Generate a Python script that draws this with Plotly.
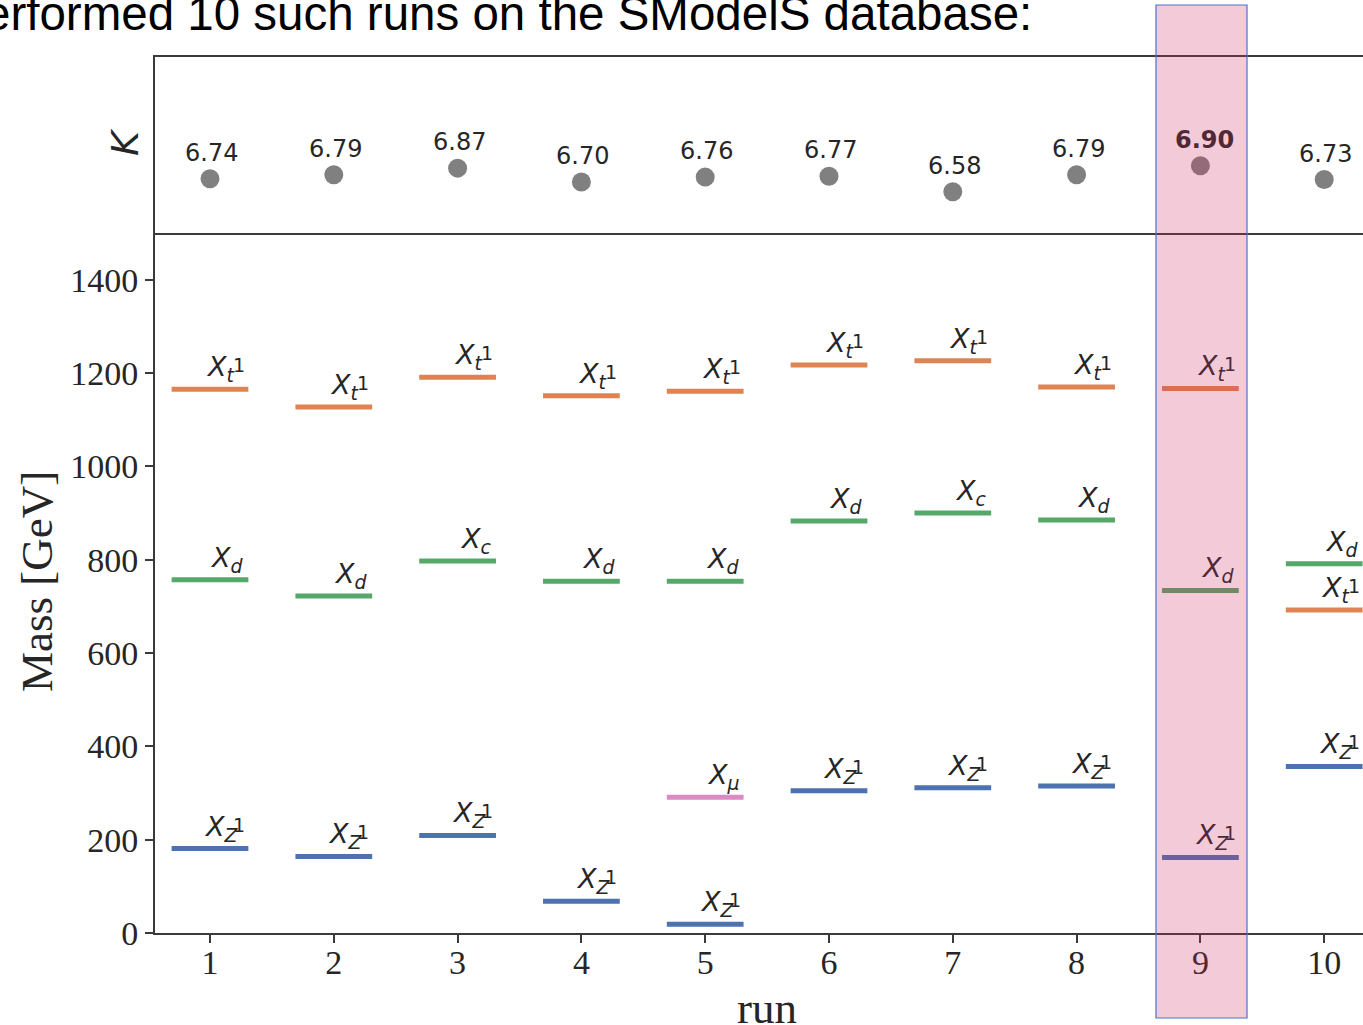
import plotly.graph_objects as go

# ---- data -------------------------------------------------------------
runs = [1, 2, 3, 4, 5, 6, 7, 8, 9, 10]
k_values = [6.74, 6.79, 6.87, 6.70, 6.76, 6.77, 6.58, 6.79, 6.90, 6.73]

# particle masses per run in GeV (None = particle absent in that run)
mass_xt1 = [1165, 1127, 1191, 1151, 1161, 1217, 1226, 1170, 1167, 692]
mass_xd = [757, 722, None, 754, 754, 883, None, 885, 734, 791]
mass_xc = [None, None, 797, None, None, None, 900, None, None, None]
mass_xmu = [None, None, None, None, 291, None, None, None, None, None]
mass_xz1 = [181, 164, 209, 68, 19, 305, 311, 315, 162, 357]

mass_ticks = [0, 200, 400, 600, 800, 1000, 1200, 1400]
highlight_run = 9

# (subscript, superscript, colour, masses)
particles = [
    ("t", "1", (221, 132, 82), mass_xt1),
    ("d", "", (85, 168, 104), mass_xd),
    ("c", "", (85, 168, 104), mass_xc),
    ("μ", "", (218, 139, 195), mass_xmu),
    ("Z", "1", (76, 114, 176), mass_xz1),
]

# ---- geometry / style -------------------------------------------------
W, H = 1363, 1025
ML, MR, MT, MB = 155, 0, 57, 92
PW, PH = W - ML - MR, H - MT - MB
SPLIT = (PH - 176) / PH          # K panel occupies the top 176 px
HALF = 0.31                      # half length of a mass level
TEXT = (38, 38, 38)
AXIS = "#3a3a3a"
OVER_RGB, OVER_A = (205, 45, 100), 0.25
# pixel shift of the "X + subscript" block when a superscript follows it
SUP_ROOM = {"t": -11, "Z": -7}


def rgb(c):
    return "rgb(%d,%d,%d)" % tuple(round(v) for v in c)


def tint(c):
    """colour seen through the translucent highlight band"""
    return tuple((1 - OVER_A) * v + OVER_A * o for v, o in zip(c, OVER_RGB))


def px_x(px):
    return (px - ML) / PW


def px_y(py):
    return (H - MB - py) / PH


fig = go.Figure()

# mass levels
for sub, sup, col, masses in particles:
    xs, ys = [], []
    for r, m in zip(runs, masses):
        if m is None:
            continue
        xs += [r - HALF, r + HALF, None]
        ys += [m, m, None]
    fig.add_trace(go.Scatter(x=xs, y=ys, mode="lines", xaxis="x", yaxis="y",
                             line=dict(color=rgb(col), width=5),
                             hoverinfo="skip", showlegend=False))

# K values
fig.add_trace(go.Scatter(x=runs, y=k_values, mode="markers", xaxis="x2", yaxis="y2",
                         marker=dict(size=19, color="#808080"),
                         hoverinfo="skip", showlegend=False))

annotations = []

# level labels: X with subscript, superscript stacked above the subscript
for sub, sup, col, masses in particles:
    for r, m in zip(runs, masses):
        if m is None:
            continue
        tc = rgb(tint(TEXT)) if r == highlight_run else rgb(TEXT)
        annotations.append(dict(
            x=r + HALF, y=m, xref="x", yref="y",
            text="<i>X</i><sub><i>%s</i></sub>" % sub,
            xanchor="right", yanchor="bottom",
            xshift=SUP_ROOM.get(sub, -2) if sup else -2, yshift=1,
            showarrow=False,
            font=dict(family="DejaVu Sans", size=27, color=tc)))
        if sup:
            annotations.append(dict(
                x=r + HALF, y=m, xref="x", yref="y", text=sup,
                xanchor="right", yanchor="middle", xshift=-1, yshift=24,
                showarrow=False,
                font=dict(family="DejaVu Sans", size=19, color=tc)))

# K value labels
k_best = max(k_values)
for r, k in zip(runs, k_values):
    label = "%.2f" % k
    tc = rgb(tint(TEXT)) if r == highlight_run else rgb(TEXT)
    annotations.append(dict(
        x=r, y=k, xref="x2", yref="y2",
        text="<b>%s</b>" % label if k == k_best else label,
        xanchor="left", yanchor="bottom", xshift=-27, yshift=10,
        showarrow=False,
        font=dict(family="DejaVu Sans", size=24, color=tc)))

# axis titles
annotations += [
    dict(x=px_x(37), y=px_y(582), xref="paper", yref="paper", text="Mass [GeV]",
         textangle=-90, xanchor="center", yanchor="middle", showarrow=False,
         font=dict(family="Liberation Serif", size=45, color=rgb(TEXT))),
    dict(x=px_x(767), y=px_y(1008), xref="paper", yref="paper", text="run",
         xanchor="center", yanchor="middle", showarrow=False,
         font=dict(family="Liberation Serif", size=45, color=rgb(TEXT))),
    dict(x=px_x(125), y=px_y(142), xref="paper", yref="paper", text="<i>K</i>",
         textangle=-90, xanchor="center", yanchor="middle", showarrow=False,
         font=dict(family="DejaVu Sans", size=38, color=rgb(TEXT))),
    dict(x=px_x(1034), y=px_y(42), xref="paper", yref="paper",
         text="erformed 10 such runs on the SModelS database:",
         xanchor="right", yanchor="bottom", showarrow=False,
         font=dict(family="Liberation Sans", size=47.5, color="black")),
]

# highlight band over the best run
shapes = [dict(type="rect", xref="paper", yref="paper", layer="above",
               x0=px_x(1156), x1=px_x(1247), y0=px_y(1018), y1=px_y(5),
               fillcolor="rgba(%d,%d,%d,%g)" % (*OVER_RGB, OVER_A),
               line=dict(color="#4a72c8", width=1.2))]

x_range = [1 - 55 / 123.8, 1 + (W - 210) / 123.8]
axis_common = dict(showgrid=False, zeroline=False, linecolor=AXIS, linewidth=2)

fig.update_layout(
    width=W, height=H, template="none",
    margin=dict(l=ML, r=MR, t=MT, b=MB, pad=0),
    paper_bgcolor="white", plot_bgcolor="rgba(0,0,0,0)",
    showlegend=False,
    xaxis=dict(**axis_common, domain=[0, 1], range=x_range, showline=True,
               tickmode="array", tickvals=runs, ticktext=[str(r) for r in runs],
               ticks="outside", ticklen=8, tickwidth=2, tickcolor=AXIS,
               ticklabelstandoff=-10,
               tickfont=dict(family="Liberation Serif", size=34, color=rgb(TEXT)),
               anchor="y"),
    yaxis=dict(**axis_common, domain=[0, SPLIT], range=[0, 1500], showline=True,
               tickmode="array", tickvals=mass_ticks,
               ticks="outside", ticklen=8, tickwidth=2, tickcolor=AXIS,
               tickfont=dict(family="Liberation Serif", size=34, color=rgb(TEXT)),
               anchor="x"),
    xaxis2=dict(**axis_common, domain=[0, 1], range=x_range, showline=True,
                mirror=True, showticklabels=False, ticks="", anchor="y2"),
    yaxis2=dict(**axis_common, domain=[SPLIT, 1], range=[6.074, 8.234],
                showline=True, showticklabels=False, ticks="", anchor="x2"),
    annotations=annotations,
    shapes=shapes,
)

fig.write_html("out.html")
